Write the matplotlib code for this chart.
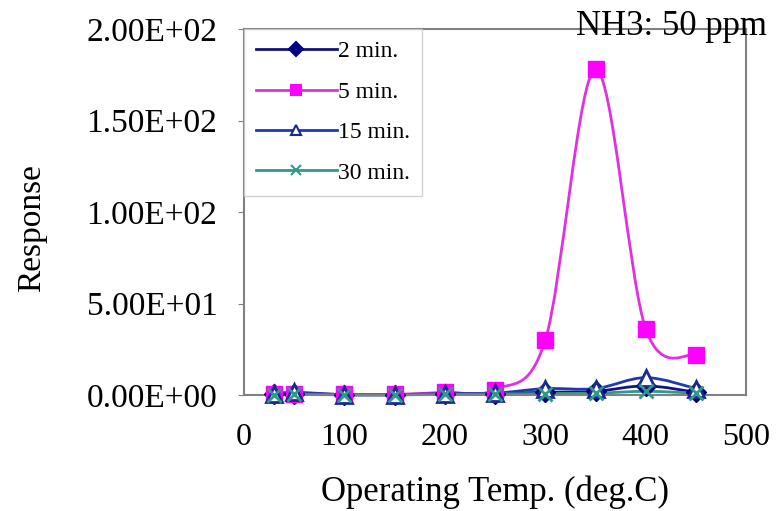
import matplotlib
matplotlib.use("Agg")
import matplotlib.pyplot as plt
from matplotlib.path import Path
from matplotlib.patches import PathPatch
from matplotlib.lines import Line2D
from matplotlib.ticker import FormatStrFormatter

# operating temperature (deg C) and response for each exposure time
temps = [30, 50, 100, 150, 200, 250, 300, 350, 400, 450]
resp_2min = [0.3, 0.8, 0.2, 0.1, 0.5, 0.8, 1.5, 2.0, 5.0, 1.5]
resp_5min = [0.5, 0.8, 0.3, 0.3, 1.5, 3.0, 30.0, 178.0, 36.0, 22.0]
resp_15min = [0.5, 1.5, 0.2, 0.2, 0.8, 1.0, 3.5, 3.5, 9.5, 3.5]
resp_30min = [0.1, 0.3, 0.1, 0.1, 0.3, 0.5, 0.8, 1.0, 2.0, 1.0]
labels = ["2 min.", "5 min.", "15 min.", "30 min."]


def smooth_path(xs, ys):
    """Excel style smoothed line: cubic bezier through every point."""
    pts = list(zip(xs, ys))
    verts = [pts[0]]
    codes = [Path.MOVETO]
    n = len(pts)
    for i in range(n - 1):
        p0 = pts[i - 1] if i > 0 else pts[i]
        p1 = pts[i]
        p2 = pts[i + 1]
        p3 = pts[i + 2] if i + 2 < n else pts[i + 1]
        c1 = (p1[0] + (p2[0] - p0[0]) / 6.0, p1[1] + (p2[1] - p0[1]) / 6.0)
        c2 = (p2[0] - (p3[0] - p1[0]) / 6.0, p2[1] - (p3[1] - p1[1]) / 6.0)
        verts += [c1, c2, p2]
        codes += [Path.CURVE4] * 3
    return Path(verts, codes)


plt.rcParams['font.family'] = ['Liberation Serif', 'DejaVu Serif']

fig = plt.figure(figsize=(7.79, 5.11), dpi=100)
ax = fig.add_axes([0.313, 0.227, 0.645, 0.716])

# (values, line colour, marker edge, marker, marker face, marker size)
series = [
    (resp_2min, '#14147a', '#000080', 'D', '#000080', 10),
    (resp_5min, '#e030e0', '#ff00ff', 's', '#ff00ff', 11),
    (resp_15min, '#2038b0', '#1a2a90', '^', 'white', 11),
    (resp_30min, '#2e9a8a', '#2e9a8a', 'x', '#2e9a8a', 10),
]

handles = []
for (vals, lc, mc, mk, fc, ms), lab in zip(series, labels):
    patch = PathPatch(smooth_path(temps, vals), facecolor='none', edgecolor=lc,
                      lw=2.0, clip_on=False)
    ax.add_patch(patch)
    ax.plot(temps, vals, ls='none', marker=mk, ms=ms, mfc=fc, mec=mc,
            mew=2.0 if mk in ('^', 'x') else 1.0, clip_on=False, zorder=3)
    handles.append(Line2D([0], [0], color=lc, lw=2.0, marker=mk, ms=7,
                          mfc=fc, mec=mc, mew=1.5))

ax.set_xlim(0, 500)
ax.set_ylim(0, 200)
ax.set_xticks([0, 100, 200, 300, 400, 500])
ax.set_yticks([0, 50, 100, 150, 200])
ax.yaxis.set_major_formatter(FormatStrFormatter('%.2E'))

for s in ax.spines.values():
    s.set_color('#808080')
    s.set_linewidth(1.5)
ax.tick_params(axis='y', direction='out', length=4, color='#808080',
               labelsize=24, pad=15)
ax.tick_params(axis='x', direction='out', length=0, labelsize=23, pad=20)

ax.set_xlabel("Operating Temp. (deg.C)", fontsize=25, labelpad=17)
ax.set_ylabel("Response", fontsize=24)
ax.yaxis.set_label_coords(-0.392, 0.456)

fig.text(0.985, 0.948, "NH3: 50 ppm", fontsize=25, ha='right', va='center')

leg = ax.legend(handles, labels, loc='upper left', bbox_to_anchor=(0, 1),
                borderaxespad=0, fontsize=17, frameon=True, fancybox=False,
                handlelength=3.45, handletextpad=0.05, labelspacing=0.8,
                borderpad=0.5)
leg.get_frame().set_edgecolor('#c8c8c8')
leg.get_frame().set_linewidth(1.0)

fig.savefig("out.png", dpi=100)
